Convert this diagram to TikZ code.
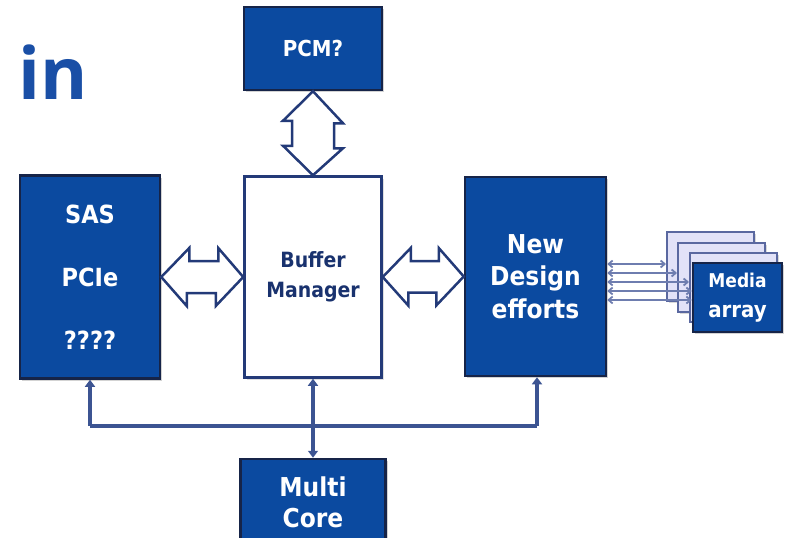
\documentclass[tikz,border=0pt]{standalone}
\usepackage{fontspec}
\setmainfont{DejaVu Sans}
\newfontfamily\condfont{DejaVu Sans Condensed}
\newfontfamily\titlefont{Open Sans}
\usetikzlibrary{shadows,arrows.meta,calc}
\definecolor{boxblue}{RGB}{11,74,160}
\definecolor{boxline}{RGB}{22,36,72}
\definecolor{arrline}{RGB}{35,58,120}
\definecolor{busline}{RGB}{60,84,146}
\definecolor{titleblue}{RGB}{26,79,166}
\definecolor{bmtext}{RGB}{25,50,110}
\definecolor{pagefill}{RGB}{226,226,248}
\definecolor{pageline}{RGB}{90,104,160}
\definecolor{mline}{RGB}{110,125,175}
\tikzset{
  bluebox/.style={draw=boxline, line width=2.5pt, fill=boxblue, text=white, inner sep=0pt, align=center,
    drop shadow={shadow xshift=2pt, shadow yshift=-2pt, opacity=0.35}},
  whitebox/.style={draw=arrline, line width=2.5pt, fill=white, text=bmtext, inner sep=0pt, align=center,
    drop shadow={shadow xshift=2pt, shadow yshift=-2pt, opacity=0.25}},
  pagebox/.style={draw=pageline, line width=2pt, fill=pagefill, minimum width=87pt, minimum height=69pt,
    drop shadow={shadow xshift=1.5pt, shadow yshift=-1.5pt, opacity=0.3}},
  dbl/.style={draw=arrline, line width=2.5pt, fill=white, line join=miter},
  bus/.style={draw=busline, line width=3.5pt},
  ml/.style={draw=mline, line width=1.8pt, {Straight Barb[length=4pt,width=7pt]}-{Straight Barb[length=4pt,width=7pt]}},
}
\begin{document}
\begin{tikzpicture}[x=1pt,y=-1pt]
\useasboundingbox (0,0) rectangle (793,538);
\clip (0,0) rectangle (793,538);
% title
\node[font=\titlefont\bfseries\fontsize{72}{72}\selectfont, text=titleblue, anchor=base west, inner sep=0pt] (title) at (18,99) {in};
% boxes
\node[bluebox, minimum width=138pt, minimum height=83pt, font=\condfont\bfseries\fontsize{22}{26}\selectfont] (pcm) at (313,48.5) {PCM?};
\node[bluebox, minimum width=140pt, minimum height=203pt, font=\condfont\bfseries\fontsize{25}{63}\selectfont] (sas) at (90,277) {SAS\\PCIe\\????};
\node[whitebox, minimum width=137pt, minimum height=201pt, font=\condfont\bfseries\fontsize{21}{30}\selectfont] (buf) at (313,277) {Buffer\\Manager};
\node[bluebox, minimum width=141pt, minimum height=199pt, font=\condfont\bfseries\fontsize{26}{32.5}\selectfont] (nd) at (535.5,276.5) {New\\Design\\efforts};
\node[bluebox, minimum width=145pt, minimum height=86pt, font=\condfont\bfseries\fontsize{26}{31}\selectfont] (mc) at (313,502) {Multi\\Core};
% media stack
\node[pagebox] (p1) at (710.5,266.5) {};
\node[pagebox] (p2) at (721.5,277.5) {};
\node[pagebox] (p3) at (733.5,287.5) {};
\node[bluebox, minimum width=89pt, minimum height=69pt, font=\condfont\bfseries\fontsize{22}{30}\selectfont] (media) at (737.5,297.5) {{\fontsize{19}{30}\selectfont Media}\\array};
% double arrows
\draw[dbl] (pcm.south) -- ++(30,32) -- ++(-9,0) -- ++(0,25) -- ++(9,0) -- (buf.north)
  -- ++(-30,-29.5) -- ++(9,0) -- ++(0,-25) -- ++(-9,0) -- cycle;
\draw[dbl] (sas.east) -- ++(28,-29) -- ++(0,13) -- ++(29,0) -- ++(0,-13) -- (buf.west)
  -- ++(-27.5,29) -- ++(0,-13) -- ++(-29,0) -- ++(0,13) -- cycle;
\draw[dbl] (buf.east) -- ++(28,-29) -- ++(0,13) -- ++(28,0) -- ++(0,-13) -- (nd.west)
  -- ++(-27.5,29) -- ++(0,-13) -- ++(-28,0) -- ++(0,13) -- cycle;
% media lines
\foreach \yy/\tt in {264/p1,273/p2,282/p3,291/media,300/media}
  \draw[ml] (nd.east |- 0,\yy) -- (\tt.west |- 0,\yy);
% bus
\coordinate (busL) at (90,426);
\coordinate (busR) at (537,426);
\draw[bus] (busL) -- (busR);
\draw[bus, -{Triangle[length=7pt,width=10pt]}] (busL) -- (sas.south);
\draw[bus, -{Triangle[length=7pt,width=10pt]}] (busR) -- (nd.south -| busR);
\draw[bus, {Triangle[length=7pt,width=10pt]}-{Triangle[length=7pt,width=10pt]}] (buf.south) -- (mc.north);
\end{tikzpicture}
\end{document}
